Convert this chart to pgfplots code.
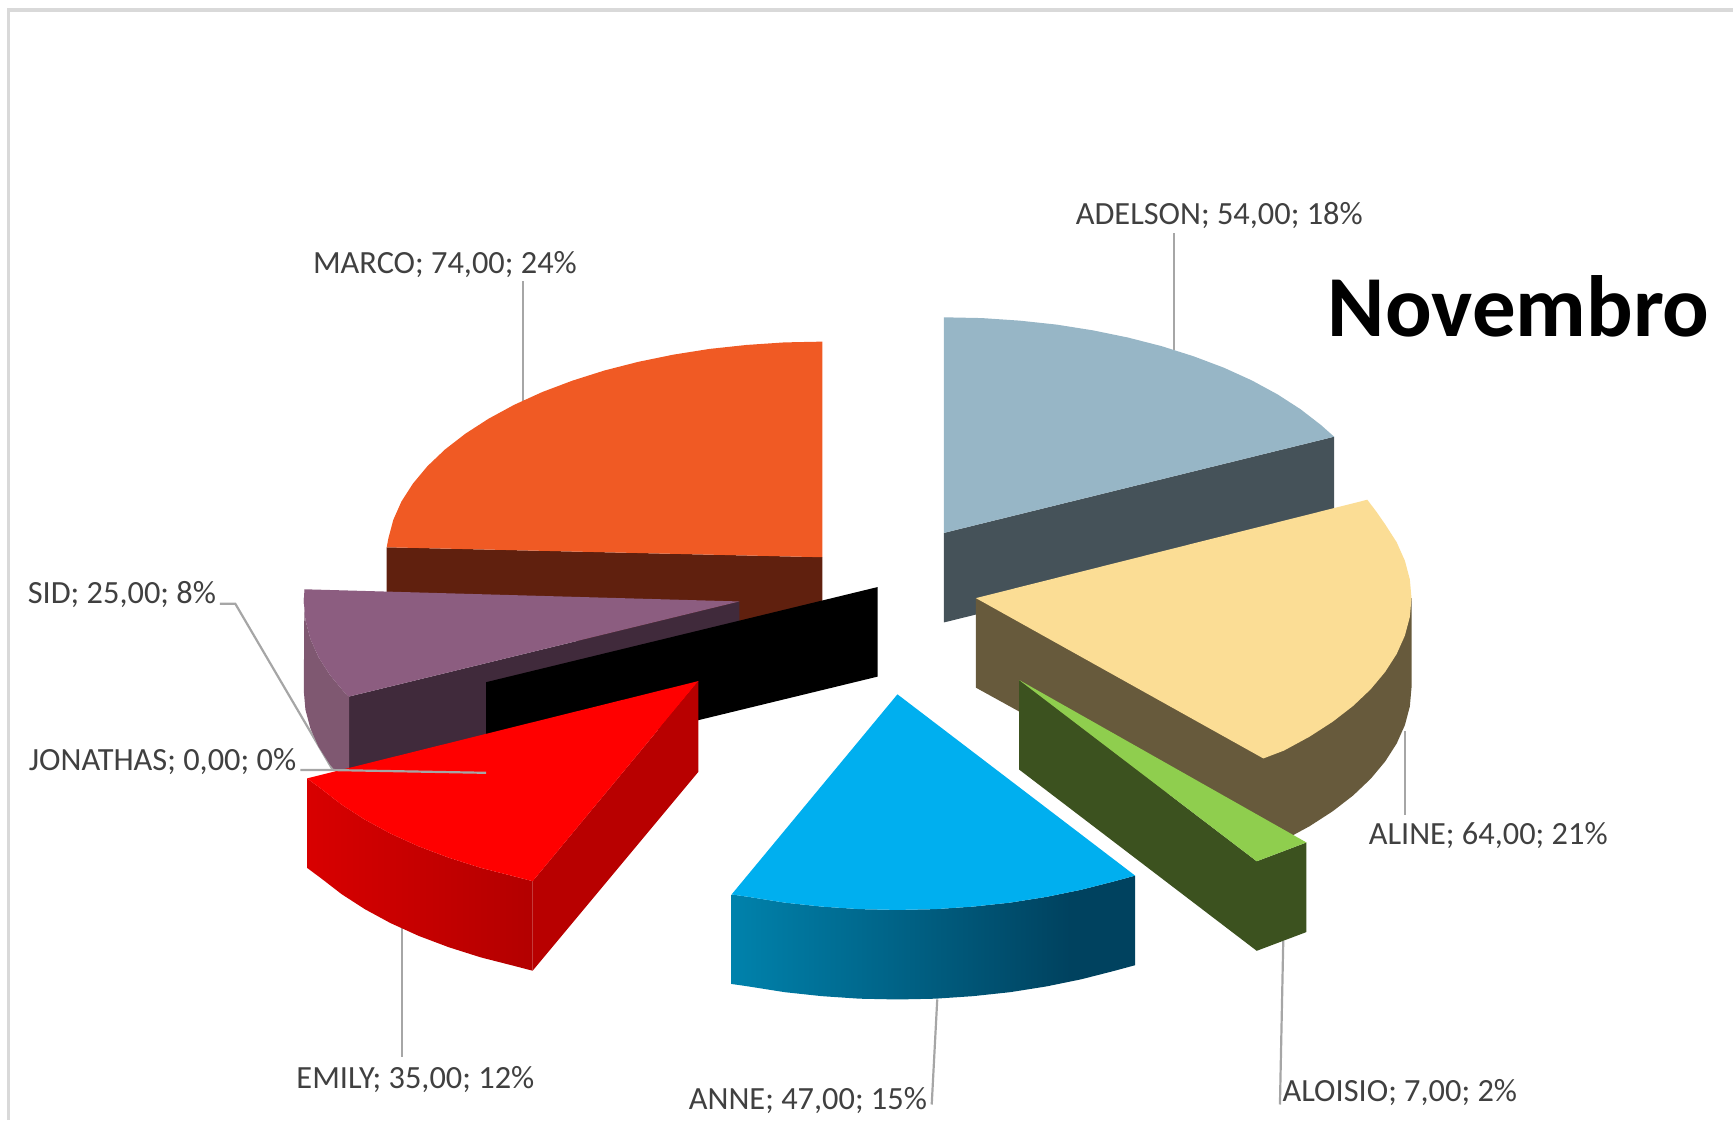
\documentclass[border=0pt]{standalone}
\usepackage{fontspec}
\setmainfont{Carlito}
\usepackage{pgfplots}
\pgfplotsset{compat=1.18}
\definecolor{annea}{HTML}{0082AC}
\definecolor{anneb}{HTML}{00425F}
\definecolor{reda}{HTML}{D80000}
\definecolor{redb}{HTML}{B30000}
\definecolor{lead}{HTML}{A6A6A6}
\definecolor{txt}{HTML}{404040}
\definecolor{frame}{HTML}{D9D9D9}
\pgfdeclarehorizontalshading{anneshade}{100bp}{color(0bp)=(annea); color(25bp)=(annea); color(67bp)=(anneb); color(100bp)=(anneb)}
\pgfdeclarehorizontalshading{redshade}{100bp}{color(0bp)=(reda); color(25bp)=(reda); color(75bp)=(redb); color(100bp)=(redb)}
\newcommand{\lbl}[3]{\node[anchor=west,inner sep=0pt,yshift=-0.6pt,text=txt,font=\fontsize{16.2}{19}\selectfont] at (axis cs:#1,#2) {#3};}
\begin{document}
\begin{tikzpicture}
\begin{axis}[
  scale only axis, width=867.5pt, height=560.5pt,
  xmin=-0.8, xmax=1567.2, ymin=-1, ymax=1012, y dir=reverse,
  hide axis, clip=false, enlargelimits=false]
% invisible extent
\addplot[draw=none] coordinates {(-0.8,-1)(1567.2,1012)};
% frame
\addplot[color=frame, line width=1.6pt] coordinates {(7.2,1012)(7.2,8)(1567.2,8)};
% leaders under the slices
\addplot[lead, line width=1.1pt] coordinates {(472,362)(472,253)};
\addplot[lead, line width=1.1pt] coordinates {(1061,316)(1061,210)};
\addplot[lead, line width=1.1pt] coordinates {(1270,660)(1270,736)};
\addplot[lead, line width=1.1pt] coordinates {(1160,850)(1157,998)};
\addplot[lead, line width=1.1pt] coordinates {(847,903)(842,998)};
\addplot[lead, line width=1.1pt] coordinates {(363,838)(363,955)};
\addplot[lead, line width=1.1pt] coordinates {(198,545)(212,545)(300,695)};
% MARCO
\addplot[draw=none, fill={rgb,255:red,96;green,32;blue,14}] coordinates {(349,494)(743,503)(743,584)(349,575)} -- cycle;
\addplot[draw=none, fill={rgb,255:red,240;green,90;blue,36}] coordinates {(743,503)(743,308)(708.7,308.7)(674.6,311)(641,314.6)(608.2,319.8)(576.5,326.3)(546,334.1)(517,343.3)(489.7,353.6)(464.4,365.1)(441.2,377.7)(420.3,391.2)(401.8,405.5)(385.9,420.6)(372.8,436.3)(362.4,452.5)(355,469.1)(350.5,486)(349,494)} -- cycle;
% SID
\addplot[draw=none, fill={rgb,255:red,64;green,42;blue,59}] coordinates {(668,543)(315,629)(315,710)(668,624)} -- cycle;
\addplot[draw=none, fill={rgb,255:red,127;green,88;blue,113}] coordinates {(274.6,532)(274,543)(275.5,560)(280,576.9)(287.4,593.5)(297.8,609.7)(310.9,625.4)(315,629)(315,710)(310.9,706.4)(297.8,690.7)(287.4,674.5)(280,657.9)(275.5,641)(274,624)} -- cycle;
\addplot[draw=none, fill={rgb,255:red,140;green,93;blue,128}] coordinates {(668,543)(274.6,532)(274,543)(275.5,560)(280,576.9)(287.4,593.5)(297.8,609.7)(310.9,625.4)(315,629)} -- cycle;
% JONATHAS (zero-sized slice, only its cut face shows)
\addplot[draw=none, fill=black] coordinates {(793,530)(439,616)(439,697)(793,611)} -- cycle;
% EMILY
\addplot[draw=none, fill={rgb,255:red,184;green,0;blue,0}] coordinates {(631,615)(481,796)(481,877)(631,697)} -- cycle;
\addplot[draw=none, shade, shading=redshade] coordinates {(277,703)(289.8,712.5)(308.3,726.8)(329.2,740.3)(352.4,752.9)(377.7,764.4)(405,774.7)(434,783.9)(464.5,791.7)(481,796)(481,877)(464.5,872.7)(434,864.9)(405,855.7)(377.7,845.4)(352.4,833.9)(329.2,821.3)(308.3,807.8)(289.8,793.5)(277,784)} -- cycle;
\addplot[draw=none, fill={rgb,255:red,255;green,0;blue,0}] coordinates {(631,615)(277,703)(289.8,712.5)(308.3,726.8)(329.2,740.3)(352.4,752.9)(377.7,764.4)(405,774.7)(434,783.9)(464.5,791.7)(481,796)} -- cycle;
% ADELSON
\addplot[draw=none, fill={rgb,255:red,69;green,82;blue,89}] coordinates {(853,481)(1206,394)(1206,475)(853,562)} -- cycle;
\addplot[draw=none, fill={rgb,255:red,151;green,182;blue,198}] coordinates {(853,481)(853,286)(887.3,286.7)(921.4,289)(955,292.6)(987.8,297.8)(1019.5,304.3)(1050,312.1)(1079,321.3)(1106.3,331.6)(1131.6,343.1)(1154.8,355.7)(1175.7,369.2)(1194.2,383.5)(1206,394)} -- cycle;
% ALINE
\addplot[draw=none, fill={rgb,255:red,103;green,90;blue,60}] coordinates {(882,540)(882,621)(1145,766)(1160.6,758.9)(1183.8,746.3)(1204.7,732.8)(1223.2,718.5)(1239.1,703.4)(1252.2,687.7)(1262.6,671.5)(1270,654.9)(1274.5,638)(1276,621)(1276,540)} -- cycle;
\addplot[draw=none, fill={rgb,255:red,251;green,221;blue,149}] coordinates {(882,540)(1236,451)(1244,461.5)(1252.2,473.3)(1262.6,489.5)(1270,506.1)(1274.5,523)(1276,540)(1274.5,557)(1270,573.9)(1262.6,590.5)(1252.2,606.7)(1239.1,622.4)(1223.2,637.5)(1204.7,651.8)(1183.8,665.3)(1160.6,677.9)(1142,685)} -- cycle;
% ALOISIO
\addplot[draw=none, fill={rgb,255:red,60;green,82;blue,31}] coordinates {(921,614)(1136,778)(1181,761)(1181,842)(1136,859)(921,695)} -- cycle;
\addplot[draw=none, fill={rgb,255:red,143;green,206;blue,78}] coordinates {(921,614)(1181,761)(1136,778)} -- cycle;
% ANNE
\addplot[draw=none, shade, shading=anneshade] coordinates {(661,808)(676.2,810.2)(709,815.4)(742.6,819)(776.7,821.3)(811,822)(845.3,821.3)(879.4,819)(913,815.4)(945.8,810.2)(977.5,803.7)(1008,795.9)(1026,791)(1026,872)(1008,876.9)(977.5,884.7)(945.8,891.2)(913,896.4)(879.4,900)(845.3,902.3)(811,903)(776.7,902.3)(742.6,900)(709,896.4)(676.2,891.2)(661,889)} -- cycle;
\addplot[draw=none, fill={rgb,255:red,0;green,175;blue,239}] coordinates {(811,627)(661,808)(676.2,810.2)(709,815.4)(742.6,819)(776.7,821.3)(811,822)(845.3,821.3)(879.4,819)(913,815.4)(945.8,810.2)(977.5,803.7)(1008,795.9)(1026,791)} -- cycle;
% JONATHAS leader on top
\addplot[lead, line width=1.1pt] coordinates {(271,695.5)(300,695.5)(439,698)};
% labels
\lbl{282}{237}{MARCO; 74,00; 24\%}
\lbl{972}{193}{ADELSON; 54,00; 18\%}
\lbl{1237}{754}{ALINE; 64,00; 21\%}
\lbl{1159}{986}{ALOISIO; 7,00; 2\%}
\lbl{622}{993}{ANNE; 47,00; 15\%}
\lbl{267}{974}{EMILY; 35,00; 12\%}
\lbl{25}{687}{JONATHAS; 0,00; 0\%}
\lbl{24}{536}{SID; 25,00; 8\%}
\node[anchor=west,inner sep=0pt,font=\fontsize{43.5}{50}\selectfont\bfseries] at (axis cs:1200,276) {Novembro};
\end{axis}
\end{tikzpicture}
\end{document}
